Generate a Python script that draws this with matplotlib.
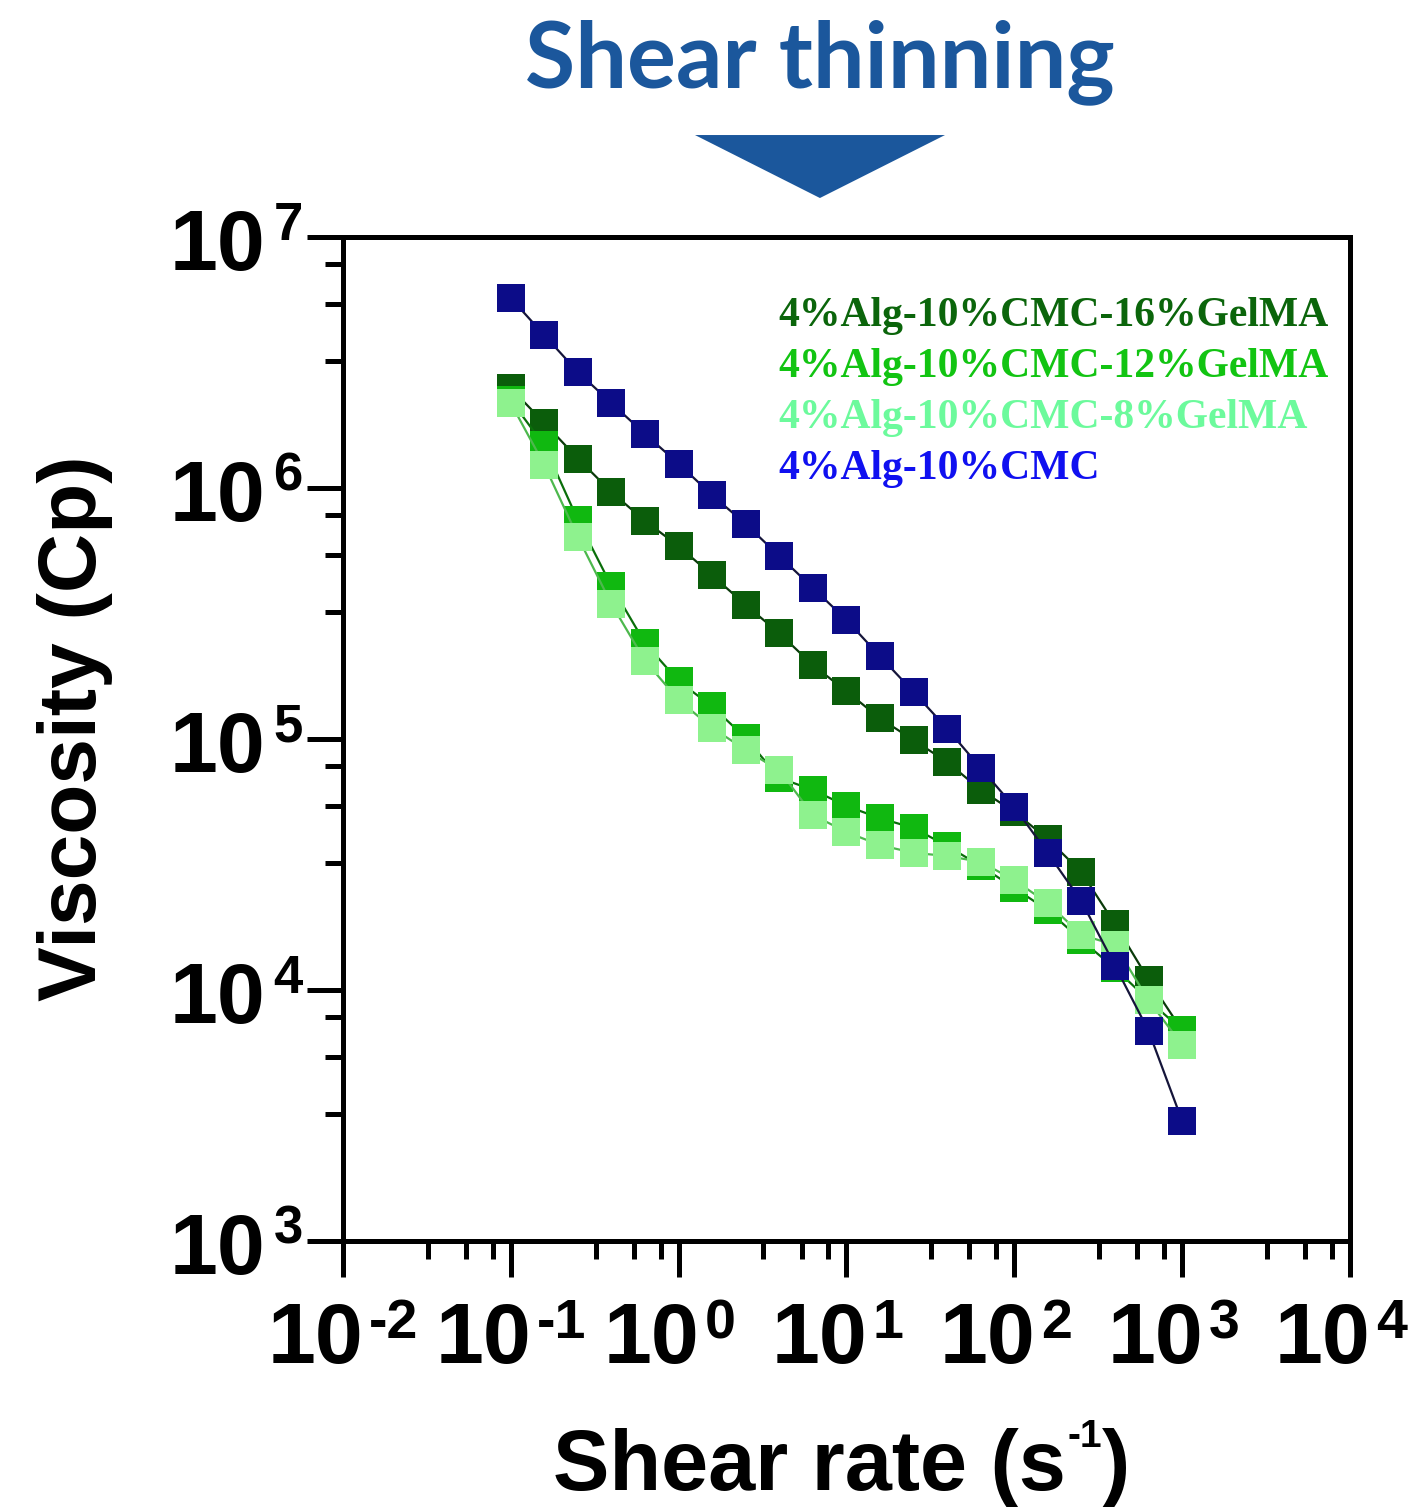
import matplotlib
matplotlib.use("Agg")
import matplotlib.pyplot as plt
from matplotlib.patches import Polygon
from matplotlib.ticker import LogLocator, NullFormatter

# shear rate points (s^-1), 5 per decade
shear_rate = [0.1, 0.158, 0.251, 0.398, 0.631, 1.0, 1.58, 2.51, 3.98, 6.31,
              10, 15.8, 25.1, 39.8, 63.1, 100, 158, 251, 398, 631, 1000]

# viscosity (Cp)
visc_16 = [2.50e6, 1.82e6, 1.31e6, 9.64e5, 7.39e5, 5.87e5, 4.50e5, 3.42e5, 2.64e5, 1.97e5,
           1.55e5, 1.21e5, 9.9e4, 8.1e4, 6.27e4, 5.12e4, 4.0e4, 2.95e4, 1.83e4, 1.10e4, 6.9e3]
visc_12 = [2.24e6, 1.48e6, 7.46e5, 4.07e5, 2.41e5, 1.70e5, 1.35e5, 1.01e5, 7.0e4, 6.27e4,
           5.41e4, 4.84e4, 4.42e4, 3.75e4, 3.12e4, 2.55e4, 2.08e4, 1.58e4, 1.22e4, 9.1e3, 6.93e3]
visc_8 = [2.18e6, 1.24e6, 6.38e5, 3.45e5, 2.05e5, 1.43e5, 1.11e5, 9.04e4, 7.5e4, 4.98e4,
          4.26e4, 3.78e4, 3.52e4, 3.42e4, 3.24e4, 2.74e4, 2.22e4, 1.66e4, 1.51e4, 9.1e3, 6.04e3]
visc_cmc = [5.71e6, 4.07e6, 2.90e6, 2.18e6, 1.64e6, 1.25e6, 9.38e5, 7.19e5, 5.36e5, 4.00e5,
            2.98e5, 2.14e5, 1.54e5, 1.10e5, 7.66e4, 5.36e4, 3.52e4, 2.26e4, 1.25e4, 6.87e3, 3.01e3]

labels = ['4%Alg-10%CMC-16%GelMA', '4%Alg-10%CMC-12%GelMA',
          '4%Alg-10%CMC-8%GelMA', '4%Alg-10%CMC']
series = [visc_16, visc_12, visc_8, visc_cmc]
marker_colors = ['#0B5D0B', '#10B810', '#8EF28E', '#0C0C88']
line_colors = ['#0A3A0A', '#0A6E0A', '#4DB84D', '#15153A']
text_colors = ['#0B650B', '#12C412', '#6CFA9C', '#1010F0']

fig = plt.figure(figsize=(14.23, 15.07), dpi=100)
ax = fig.add_axes([0.2410, 0.1765, 0.7077, 0.6662])

for i in range(len(series)):
    ax.plot(shear_rate, series[i], color=line_colors[i], lw=1.6,
            marker='s', ms=19.5, mfc=marker_colors[i], mec=marker_colors[i],
            mew=0, zorder=3 + i)

ax.set_xscale('log')
ax.set_yscale('log')
ax.set_xlim(1e-2, 1e4)
ax.set_ylim(1e3, 1e7)

for s in ax.spines.values():
    s.set_linewidth(3.6)

ax.xaxis.set_major_locator(LogLocator(base=10, numticks=20))
ax.yaxis.set_major_locator(LogLocator(base=10, numticks=20))
ax.xaxis.set_minor_locator(LogLocator(base=10, subs=(3.2, 5.4, 7.8), numticks=20))
ax.yaxis.set_minor_locator(LogLocator(base=10, subs=(3.2, 5.4, 7.8), numticks=20))
ax.xaxis.set_minor_formatter(NullFormatter())
ax.yaxis.set_minor_formatter(NullFormatter())
ax.tick_params(which='major', length=26, width=3.6, direction='out',
               labelbottom=False, labelleft=False)
ax.tick_params(which='minor', length=13, width=3.6, direction='out')

# tick labels as 10 + raised exponent
for k in range(-2, 5):
    ax.annotate('10', xy=(10.0 ** k, 0), xycoords=ax.get_xaxis_transform(),
                xytext=(15, -88), textcoords='offset points', ha='right', va='baseline',
                fontsize=62, fontweight='bold', family='Liberation Sans')
    ax.annotate(str(k), xy=(10.0 ** k, 0), xycoords=ax.get_xaxis_transform(),
                xytext=(19, -70), textcoords='offset points', ha='left', va='baseline',
                fontsize=40, fontweight='bold', family='Liberation Sans')
for k in range(3, 8):
    ax.annotate('10', xy=(0, 10.0 ** k), xycoords=ax.get_yaxis_transform(),
                xytext=(-56, -24), textcoords='offset points', ha='right', va='baseline',
                fontsize=62, fontweight='bold', family='Liberation Sans')
    ax.annotate(str(k), xy=(0, 10.0 ** k), xycoords=ax.get_yaxis_transform(),
                xytext=(-50, -2), textcoords='offset points', ha='left', va='baseline',
                fontsize=38, fontweight='bold', family='Liberation Sans')

# axis titles
ax.text(-0.228, 0.511, 'Viscosity (Cp)', transform=ax.transAxes, rotation=90,
        ha='right', va='center', fontsize=59, fontweight='bold', family='Liberation Sans')
ax.text(0.718, -0.248, 'Shear rate (s', transform=ax.transAxes, ha='right',
        va='baseline', fontsize=61, fontweight='bold', family='Liberation Sans')
ax.annotate('-1', xy=(0.718, -0.248), xycoords='axes fraction', xytext=(1, 31),
            textcoords='offset points', ha='left', va='baseline',
            fontsize=28, fontweight='bold', family='Liberation Sans')
ax.annotate(')', xy=(0.718, -0.248), xycoords='axes fraction', xytext=(26, 0),
            textcoords='offset points', ha='left', va='baseline',
            fontsize=61, fontweight='bold', family='Liberation Sans')

# legend as coloured text
for i in range(len(labels)):
    ax.text(0.432, 0.921 - i * 0.0507, labels[i], transform=ax.transAxes,
            ha='left', va='center', fontsize=30, fontweight='bold',
            family='Liberation Serif', color=text_colors[i])

# heading and arrow
fig.text(0.576, 0.9423, 'Shear thinning', ha='center', va='baseline',
         fontsize=66, fontweight='bold', family='Lato', color='#1B579C')
fig.patches.append(Polygon([[0.4884, 0.9104], [0.6641, 0.9104], [0.5762, 0.8686]],
                           closed=True, transform=fig.transFigure,
                           facecolor='#1B579C', edgecolor='none'))

fig.savefig('out.png', dpi=100)
